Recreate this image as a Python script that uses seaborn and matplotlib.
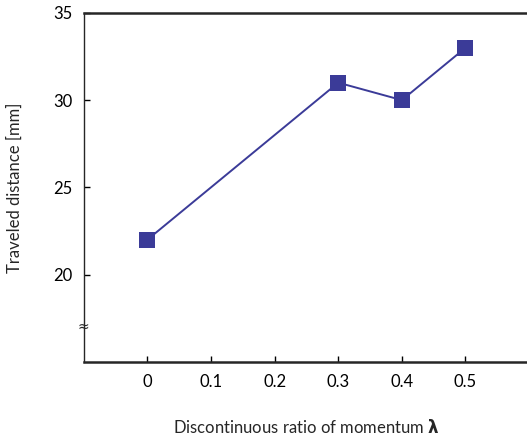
import matplotlib
matplotlib.use("Agg")
import matplotlib.pyplot as plt
import seaborn as sns
import pandas as pd

ratio = [0, 0.3, 0.4, 0.5]
distance = [22, 31, 30, 33]
xticks = [0, 0.1, 0.2, 0.3, 0.4, 0.5]
yticks = [20, 25, 30, 35]

df = pd.DataFrame({"ratio": ratio, "distance": distance})

sns.set_style("ticks")
plt.rcParams['font.family'] = ['Lato', 'DejaVu Sans']

fig = plt.figure(figsize=(5.27, 4.45), dpi=100)
ax = fig.add_axes([0.159, 0.187, 0.845, 0.784])

col = "#3b3b98"
sns.lineplot(data=df, x="ratio", y="distance", ax=ax, color=col, lw=1.4,
             marker="s", markersize=11.5, markeredgewidth=0, markerfacecolor=col)

ax.set_xlim(-0.1, 0.6)
ax.set_ylim(15, 35)
ax.set_xticks(xticks)
ax.set_xticklabels([str(t) for t in xticks])
ax.set_yticks(yticks)
ax.tick_params(direction="in", length=4, width=1, labelsize=12, colors="black", pad=8)
ax.tick_params(axis="x", pad=9)
ax.spines["left"].set_linewidth(1.0)
ax.spines["bottom"].set_linewidth(1.8)
ax.spines["top"].set_linewidth(1.8)
ax.spines["right"].set_visible(False)

ax.text(0, 17, "≈", transform=ax.get_yaxis_transform(), ha="center", va="center",
        fontsize=10, family="DejaVu Sans")

ax.set_xlabel("Discontinuous ratio of momentum $\\mathbf{\\lambda}$", fontsize=12, labelpad=20)
ax.set_ylabel("Traveled distance [mm]", fontsize=12, labelpad=22)

fig.savefig("out.png", dpi=100)
